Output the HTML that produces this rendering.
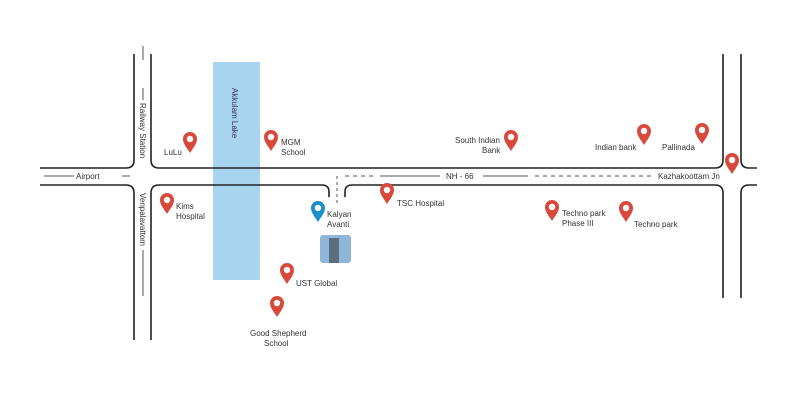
<html><body style="margin:0;background:#fff">
<svg width="800" height="419" xmlns="http://www.w3.org/2000/svg" font-family="Liberation Sans, sans-serif" font-size="8" fill="#333">
<defs>
<g id="p"><path d="M0,10 C-3,5 -7,1 -7,-4 A7,7 0 1 1 7,-4 C7,1 3,5 0,10Z" fill="#d9493b"/><circle cx="0" cy="-4" r="3.2" fill="#fff"/></g>
<g id="b"><path d="M0,10 C-3,5 -7,1 -7,-4 A7,7 0 1 1 7,-4 C7,1 3,5 0,10Z" fill="#1a8fc9"/><circle cx="0" cy="-4" r="3.2" fill="#fff"/></g>
</defs>
<rect x="213" y="62" width="47" height="218" fill="#a9d4f0"/>
<g fill="none" stroke="#222" stroke-width="1.6">
<path d="M134,54 V160 Q134,168 126,168 H40"/>
<path d="M151,54 V160 Q151,168 159,168 H715 Q723,168 723,160 V54"/>
<path d="M40,185 H126 Q134,185 134,193 V340"/>
<path d="M151,340 V193 Q151,185 159,185 H322 Q329,185 329,192 V197"/>
<path d="M345,197 V192 Q345,185 352,185 H715 Q723,185 723,193 V298"/>
<path d="M741,54 V160 Q741,168 749,168 H757"/>
<path d="M741,298 V193 Q741,185 749,185 H757"/>
</g>
<g stroke="#555" stroke-width="1" fill="none">
<line x1="143" y1="46" x2="143" y2="60"/><line x1="143" y1="88" x2="143" y2="100"/>
<line x1="143" y1="250" x2="143" y2="296"/>
<line x1="44" y1="176" x2="74" y2="176"/><line x1="122" y1="176" x2="130" y2="176"/>
<line x1="380" y1="176" x2="440" y2="176"/><line x1="483" y1="176" x2="528" y2="176"/>
<line x1="535" y1="176" x2="655" y2="176" stroke-dasharray="4,4"/>
<line x1="345" y1="176" x2="375" y2="176" stroke-dasharray="4,4"/>
<line x1="337" y1="176" x2="337" y2="205" stroke-dasharray="3,3"/>
</g>
<text x="76" y="179">Airport</text>
<text x="446" y="179">NH - 66</text>
<text x="658" y="179">Kazhakoottam Jn</text>
<text transform="translate(140,103) rotate(90)">Railway Station</text>
<text transform="translate(140,193) rotate(90)">Venpalavattom</text>
<text transform="translate(232,88) rotate(90)" fill="#335">Akkulam Lake</text>
<use href="#p" x="190" y="143"/><text x="164" y="155">LuLu</text>
<use href="#p" x="271" y="141"/><text x="281" y="145">MGM</text><text x="281" y="155">School</text>
<use href="#p" x="167" y="204"/><text x="176" y="209">Kims</text><text x="176" y="219">Hospital</text>
<use href="#b" x="318" y="212"/><text x="327" y="217">Kalyan</text><text x="327" y="227">Avanti</text>
<rect x="320" y="235" width="31" height="28" rx="3" fill="#8fb6d8"/><rect x="329" y="238" width="10" height="25" fill="#5a6e80"/>
<use href="#p" x="387" y="194"/><text x="397" y="206">TSC Hospital</text>
<use href="#p" x="287" y="274"/><text x="296" y="286">UST Global</text>
<use href="#p" x="277" y="307"/><text x="250" y="336">Good Shepherd</text><text x="264" y="346">School</text>
<use href="#p" x="511" y="141"/><text x="455" y="143">South Indian</text><text x="482" y="153">Bank</text>
<use href="#p" x="644" y="135"/><text x="595" y="150">Indian bank</text>
<use href="#p" x="702" y="134"/><text x="662" y="150">Pallinada</text>
<use href="#p" x="732" y="164"/>
<use href="#p" x="552" y="211"/><text x="562" y="216">Techno park</text><text x="562" y="226">Phase III</text>
<use href="#p" x="626" y="212"/><text x="634" y="227">Techno park</text>
</svg>
</body></html>
